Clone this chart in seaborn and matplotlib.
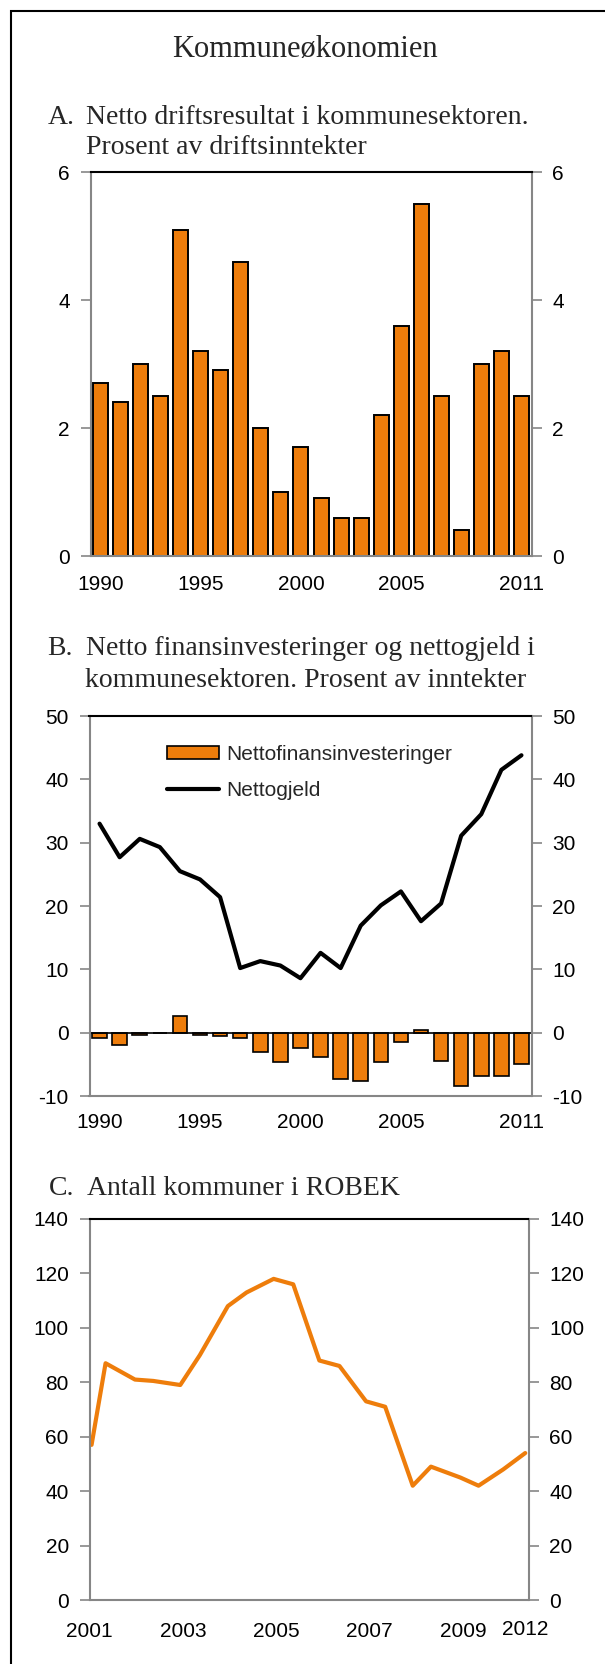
import numpy as np
import pandas as pd
import seaborn as sns
import matplotlib.pyplot as plt
from matplotlib.patches import Rectangle

# data
years = list(range(1990, 2012))
drift = [2.7, 2.4, 3.0, 2.5, 5.1, 3.2, 2.9, 4.6, 2.0, 1.0, 1.7, 0.9,
         0.6, 0.6, 2.2, 3.6, 5.5, 2.5, 0.4, 3.0, 3.2, 2.5]
finans = [-0.9, -1.9, -0.3, 0.0, 2.6, -0.3, -0.6, -0.9, -3.1, -4.7, -2.5, -3.8,
          -7.3, -7.6, -4.7, -1.5, 0.35, -4.4, -8.5, -6.9, -6.9, -5.0]
gjeld = [33.0, 27.7, 30.6, 29.3, 25.5, 24.2, 21.4, 10.2, 11.3, 10.6, 8.6, 12.6,
         10.2, 16.9, 20.1, 22.3, 17.6, 20.4, 31.1, 34.5, 41.5, 43.8]
robek_t = [2001.04, 2001.34, 2001.97, 2002.36, 2002.94, 2003.36, 2003.96, 2004.36,
           2004.94, 2005.36, 2005.92, 2006.35, 2006.92, 2007.33, 2007.92, 2008.31,
           2008.94, 2009.33, 2009.86, 2010.33]
robek = [57, 87, 81, 80.5, 79, 90, 108, 113, 118, 116, 88, 86, 73, 71, 42, 49,
         45, 42, 48, 54]
a_labels = ["1990", "1995", "2000", "2005", "2011"]
c_tick_pos = [2001, 2003, 2005, 2007, 2009]
c_tick_lab = ["2001", "2003", "2005", "2007", "2009"]

orange = "#EE7D0B"
gray = "#868686"

sns.set_style("white")
plt.rcParams['font.family'] = ['Liberation Sans', 'DejaVu Sans']
plt.rcParams['axes.unicode_minus'] = False

W, H = 605, 1664
fig = plt.figure(figsize=(W / 100, H / 100), dpi=100)


def box(l, r, t, b):
    return [l / W, 1 - b / H, (r - l) / W, (b - t) / H]


def style(ax):
    for s in ax.spines.values():
        s.set_visible(True)
        s.set_color(gray)
        s.set_linewidth(1.5)
    ax.spines['top'].set_color('black')
    ax.tick_params(axis='y', direction='out', length=7, width=1.2, color=gray,
                   labelsize=15, labelcolor='black', pad=8,
                   left=True, right=True, labelleft=True, labelright=True)
    ax.set_xlabel("")
    ax.set_ylabel("")


def year_axis(ax, direction, pad):
    edges = np.arange(years[0] - 0.5, years[-1] + 1.0, 1.0)
    ax.set_xticks(edges, [""] * len(edges))
    ax.set_xticks([int(s) for s in a_labels], a_labels, minor=True)
    ax.tick_params(axis='x', which='major', direction=direction, length=7,
                   width=1.2, color=gray)
    ax.tick_params(axis='x', which='minor', length=0, labelsize=15,
                   labelcolor='black', pad=pad)
    ax.set_xlim(years[0] - 0.5, years[-1] + 0.5)


# A
dfa = pd.DataFrame({"year": years, "val": drift})
ax1 = fig.add_axes(box(90.5, 531.5, 172, 556))
sns.barplot(data=dfa, x="year", y="val", native_scale=True, color=orange,
            saturation=1, width=0.75, edgecolor="black", linewidth=1.4, ax=ax1)
style(ax1)
ax1.set_ylim(0, 6)
ax1.set_yticks([0, 2, 4, 6])
year_axis(ax1, 'out', 14)

# B
dfb = pd.DataFrame({"year": years, "finans": finans, "gjeld": gjeld})
ax2 = fig.add_axes(box(89.5, 531.5, 716, 1096))
sns.barplot(data=dfb, x="year", y="finans", native_scale=True, color=orange,
            saturation=1, width=0.72, edgecolor="black", linewidth=1.2,
            label="Nettofinansinvesteringer", ax=ax2)
sns.lineplot(data=dfb, x="year", y="gjeld", color="black", linewidth=3,
             label="Nettogjeld", ax=ax2)
style(ax2)
ax2.set_ylim(-10, 50)
ax2.set_yticks(range(-10, 51, 10))
year_axis(ax2, 'inout', 12.5)
ax2.axhline(0, color="black", linewidth=1.2, zorder=1)
handles, labels = ax2.get_legend_handles_labels()
order = [labels.index("Nettofinansinvesteringer"), labels.index("Nettogjeld")]
ax2.legend([handles[i] for i in order], [labels[i] for i in order],
           loc="upper left", bbox_to_anchor=(0.176, 0.925), frameon=False,
           fontsize=15, handlelength=2.5, handleheight=0.6, handletextpad=0.35,
           labelspacing=0.85, borderpad=0, borderaxespad=0)

# C
dfc = pd.DataFrame({"t": robek_t, "n": robek})
ax3 = fig.add_axes(box(89.7, 528.5, 1219, 1600))
sns.lineplot(data=dfc, x="t", y="n", color=orange, linewidth=3, ax=ax3)
style(ax3)
ax3.set_ylim(0, 140)
ax3.set_yticks(range(0, 141, 20))
ax3.set_xlim(2001, 2010.4)
ax3.set_xticks(c_tick_pos, c_tick_lab)
ax3.set_xticks([robek_t[-1]], ["2012"], minor=True)
ax3.tick_params(axis='x', which='major', direction='inout', length=8, width=1.2,
                color=gray, labelsize=15, labelcolor='black', pad=11.5)
ax3.tick_params(axis='x', which='minor', length=0, labelsize=15,
                labelcolor='black', pad=14.5)

# texts
serif = ['Liberation Serif', 'DejaVu Serif']
fig.text(305 / W, 1 - 57 / H, "Kommuneøkonomien", ha='center', va='baseline',
         fontsize=22, family=serif)
subs = [
    (48, 124, "A."), (86, 124, "Netto driftsresultat i kommunesektoren."),
    (86, 154, "Prosent av driftsinntekter"),
    (47, 655, "B."), (86, 655, "Netto finansinvesteringer og nettogjeld i"),
    (85, 687, "kommunesektoren. Prosent av inntekter"),
    (49, 1195, "C."), (87, 1195, "Antall kommuner i ROBEK"),
]
for x, y, s in subs:
    fig.text(x / W, 1 - y / H, s, ha='left', va='baseline', fontsize=20,
             family=serif)

fig.patches.append(Rectangle((11.5 / W, -0.1), 2, 1.1 - 10.7 / H, fill=False,
                             edgecolor='black', linewidth=1.5,
                             transform=fig.transFigure, figure=fig))

fig.savefig("out.png", dpi=100)
